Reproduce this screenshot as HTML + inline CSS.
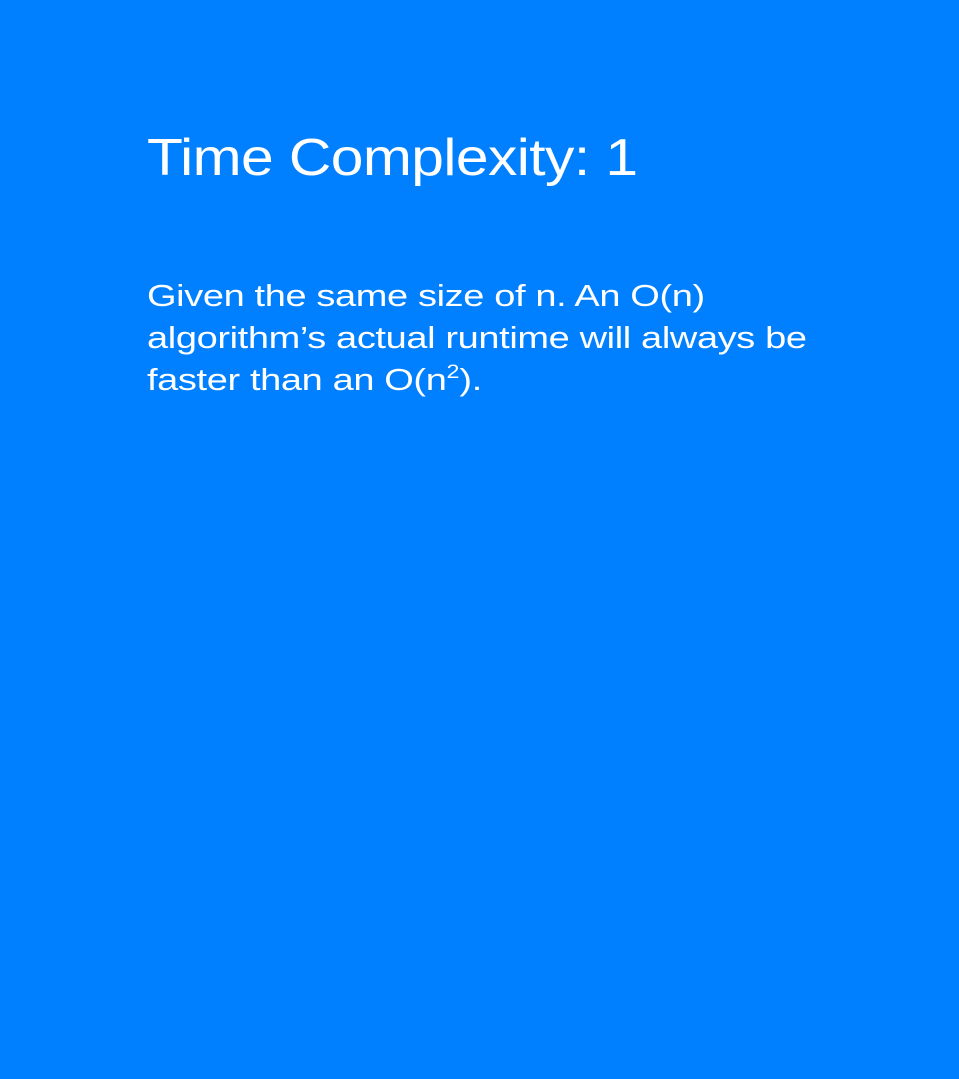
<!DOCTYPE html>
<html><head><meta charset="utf-8"><style>
html,body{margin:0;padding:0;}
body{width:959px;height:1079px;background:#0080ff;position:relative;overflow:hidden;font-family:"Liberation Sans",sans-serif;color:#fff;}
h1{position:absolute;left:147px;top:126px;margin:0;font-weight:normal;font-size:52px;line-height:64px;letter-spacing:-0.5px;white-space:nowrap;transform:scaleX(1.13);transform-origin:0 0;}
p{position:absolute;left:147px;top:275px;margin:0;font-size:31px;line-height:42px;letter-spacing:-0.3px;white-space:nowrap;transform:scaleX(1.225);transform-origin:0 0;}
sup{font-size:19px;vertical-align:top;line-height:1;position:relative;top:4px;letter-spacing:0;}
</style></head><body>
<h1>Time Complexity: 1</h1>
<p>Given the same size of n. An O(n)<br>algorithm’s actual runtime will always be<br>faster than an O(n<sup>2</sup>).</p>
</body></html>
